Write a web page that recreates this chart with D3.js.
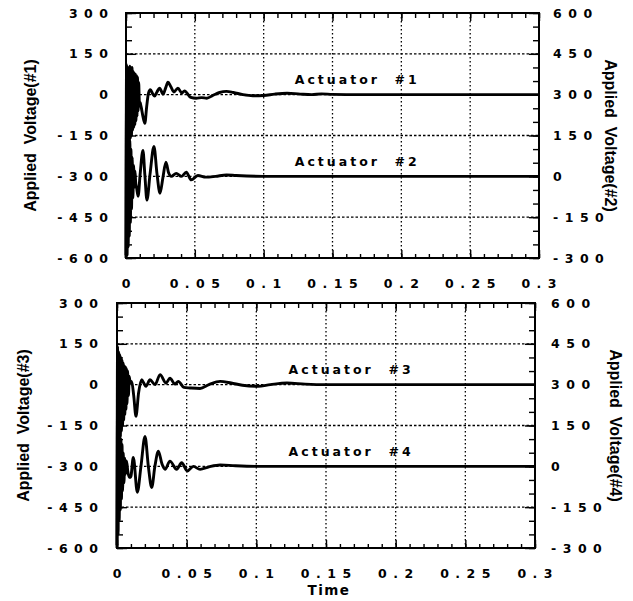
<!DOCTYPE html>
<html>
<head>
<meta charset="utf-8">
<script src="https://cdnjs.cloudflare.com/ajax/libs/d3/7.8.5/d3.min.js"></script>
<style>
  body { margin: 0; background: #fff; }
  svg { display: block; font-family: "DejaVu Sans", sans-serif; }
</style>
</head>
<body>
<script>
// values (time in s, voltage)
var xTicks = [0, 0.05, 0.1, 0.15, 0.2, 0.25, 0.3];
var xTickLabels = ['0', '0.05', '0.1', '0.15', '0.2', '0.25', '0.3'];
var leftTicks = [300, 150, 0, -150, -300, -450, -600];
var rightTicks = [600, 450, 300, 150, 0, -150, -300];
var gridY = [150, 0, -150, -300, -450];

// actuator #1, left axis
var act1 = [[0,-590],[0.0004,110],[0.0008,-260],[0.0012,100],[0.0016,-210],[0.002,95],[0.0024,-180],
  [0.0028,105],[0.0032,-160],[0.0036,90],[0.004,-150],[0.0044,100],[0.0048,-130],[0.0052,85],
  [0.0056,-120],[0.006,80],[0.0064,-110],[0.0068,75],[0.0072,-95],[0.0076,70],[0.008,-80],
  [0.0084,65],[0.0088,-60],[0.0092,45],[0.0097,-25],[0.0103,-30],[0.011,-45],[0.0123,-80],
  [0.0137,-105],[0.015,-45],[0.0163,5],[0.0177,18],[0.0195,2],[0.0208,-5],[0.0225,10],[0.0244,24],
  [0.027,2],[0.0288,25],[0.0305,46],[0.0325,30],[0.0348,10],[0.0377,24],[0.0406,6],[0.0425,14],
  [0.047,-10],[0.051,-13],[0.055,-11],[0.0587,-13],[0.063,-3],[0.068,8],[0.073,12],[0.078,8],
  [0.085,0],[0.092,-4],[0.1,-3],[0.108,2],[0.117,5],[0.125,3],[0.135,0],[0.142,3],[0.15,1],
  [0.17,0],[0.2,0],[0.25,0],[0.3,0]];

// actuator #2, right axis
var act2 = [[0,-300],[0.0004,260],[0.0008,-290],[0.0012,210],[0.0016,-260],[0.002,160],[0.0024,-220],
  [0.0028,130],[0.0032,-170],[0.0036,100],[0.004,-120],[0.0045,70],[0.005,-80],[0.0055,40],
  [0.006,-40],[0.0065,20],[0.007,-20],[0.0078,-45],[0.0088,-73],[0.0103,10],[0.0123,95],
  [0.0137,5],[0.0152,-87],[0.0175,10],[0.0203,110],[0.0225,10],[0.0247,-62],[0.0268,-5],
  [0.029,52],[0.031,12],[0.0329,0],[0.0365,11],[0.0402,0],[0.0438,15],[0.0474,-13],[0.0522,3],
  [0.058,-3],[0.065,0],[0.073,5],[0.08,3],[0.1,0],[0.15,0],[0.2,0],[0.3,0]];

// actuator #3, left axis
var act3 = [[0,-590],[0.0004,140],[0.0008,-270],[0.0012,120],[0.0016,-220],[0.002,110],[0.0024,-190],
  [0.0028,100],[0.0032,-170],[0.0036,90],[0.004,-150],[0.0044,80],[0.0048,-130],[0.0052,70],
  [0.0056,-110],[0.006,65],[0.0064,-90],[0.0068,60],[0.0072,-70],[0.0076,50],[0.0082,-40],
  [0.0088,30],[0.0095,5],[0.0105,12],[0.012,-40],[0.0136,-116],[0.0155,-30],[0.0177,18],
  [0.0193,5],[0.0208,-6],[0.0237,18],[0.0273,0],[0.0309,37],[0.0352,6],[0.038,24],[0.0416,2],
  [0.044,12],[0.048,-10],[0.0524,-12],[0.0596,-14],[0.066,0],[0.074,12],[0.082,6],[0.09,-2],
  [0.1012,-6],[0.11,0],[0.122,6],[0.135,2],[0.15,0],[0.2,0],[0.3,0]];

// actuator #4, right axis
var act4 = [[0,-300],[0.0004,200],[0.0008,-250],[0.0012,170],[0.0016,-200],[0.002,130],[0.0024,-160],
  [0.0028,100],[0.0032,-120],[0.0036,80],[0.004,-90],[0.0045,50],[0.005,-60],[0.0055,30],
  [0.006,-30],[0.0068,20],[0.0078,-20],[0.0088,-40],[0.0098,-40],[0.0117,33],[0.0146,-95],
  [0.0172,0],[0.0201,110],[0.0225,0],[0.0249,-78],[0.0272,0],[0.0297,56],[0.0322,10],
  [0.0345,-11],[0.038,19],[0.0428,-11],[0.0464,13],[0.0505,-17],[0.0548,0],[0.0596,-11],
  [0.066,-2],[0.074,5],[0.085,2],[0.1,0],[0.2,0],[0.3,0]];

var labelPos = [0.168, 55]; // where the "Actuator" captions sit (time, volts above the line)

var panels = [
  { l: 126, r: 539, t: 13, b: 258, left: act1, right: act2,
    capL: 'Actuator  #1', capR: 'Actuator  #2',
    titleL: 'Applied  Voltage(#1)', titleR: 'Applied  Voltage(#2)',
    titleLX: 30, titleRX: 610, gapL: 18, gapR: 14, showTime: false },
  { l: 117, r: 535, t: 303, b: 548, left: act3, right: act4,
    capL: 'Actuator  #3', capR: 'Actuator  #4',
    titleL: 'Applied  Voltage(#3)', titleR: 'Applied  Voltage(#4)',
    titleLX: 23, titleRX: 615, gapL: 19, gapR: 16, showTime: true }
];

var svg = d3.select('body').append('svg')
  .attr('width', 633)
  .attr('height', 601);

var LS = 6.5; // letter spacing of the numbers

var styleTicks = function(sel) {
  sel.select('.domain').remove();
  sel.selectAll('line').attr('stroke', '#000').attr('stroke-width', 1.4);
};

panels.forEach(function(p) {
  var x = d3.scaleLinear().domain([0, 0.3]).range([p.l, p.r]);
  var yL = d3.scaleLinear().domain([-600, 300]).range([p.b, p.t]);
  var yR = d3.scaleLinear().domain([-300, 600]).range([p.b, p.t]);
  var g = svg.append('g');

  // dotted grid
  g.selectAll('.gx').data(xTicks.slice(1, -1)).enter().append('line')
    .attr('x1', x).attr('x2', x)
    .attr('y1', p.t).attr('y2', p.b)
    .attr('stroke', '#000').attr('stroke-width', 1.3)
    .attr('stroke-dasharray', '1.5,2.5');
  g.selectAll('.gy').data(gridY).enter().append('line')
    .attr('x1', p.l).attr('x2', p.r)
    .attr('y1', yL).attr('y2', yL)
    .attr('stroke', '#000').attr('stroke-width', 1.3)
    .attr('stroke-dasharray', '2.5,2');

  // curves
  var lineL = d3.line()
    .x(function(d) { return x(d[0]); })
    .y(function(d) { return yL(d[1]); })
    .curve(d3.curveMonotoneX);
  var lineR = d3.line()
    .x(function(d) { return x(d[0]); })
    .y(function(d) { return yR(d[1]); })
    .curve(d3.curveMonotoneX);
  g.append('path').attr('d', lineL(p.left))
    .attr('fill', 'none').attr('stroke', '#000').attr('stroke-width', 2.9)
    .attr('stroke-linejoin', 'round');
  g.append('path').attr('d', lineR(p.right))
    .attr('fill', 'none').attr('stroke', '#000').attr('stroke-width', 2.9)
    .attr('stroke-linejoin', 'round');

  // inward ticks, minor and major
  g.append('g').attr('transform', 'translate(' + p.l + ',0)')
    .call(d3.axisRight(yL).tickValues(d3.range(-600, 301, 50)).tickSize(6).tickFormat(''))
    .call(styleTicks);
  g.append('g').attr('transform', 'translate(' + p.l + ',0)')
    .call(d3.axisRight(yL).tickValues(leftTicks).tickSize(10).tickFormat(''))
    .call(styleTicks);
  g.append('g').attr('transform', 'translate(' + p.r + ',0)')
    .call(d3.axisLeft(yR).tickValues(d3.range(-300, 601, 50)).tickSize(6).tickFormat(''))
    .call(styleTicks);
  g.append('g').attr('transform', 'translate(' + p.r + ',0)')
    .call(d3.axisLeft(yR).tickValues(rightTicks).tickSize(10).tickFormat(''))
    .call(styleTicks);
  g.append('g').attr('transform', 'translate(0,' + p.t + ')')
    .call(d3.axisBottom(x).tickValues(d3.range(0, 0.3001, 0.01)).tickSize(5).tickFormat(''))
    .call(styleTicks);
  g.append('g').attr('transform', 'translate(0,' + p.t + ')')
    .call(d3.axisBottom(x).tickValues(xTicks).tickSize(8).tickFormat(''))
    .call(styleTicks);
  g.append('g').attr('transform', 'translate(0,' + p.b + ')')
    .call(d3.axisTop(x).tickValues(d3.range(0, 0.3001, 0.01)).tickSize(4).tickFormat(''))
    .call(styleTicks);
  g.append('g').attr('transform', 'translate(0,' + p.b + ')')
    .call(d3.axisTop(x).tickValues(xTicks).tickSize(8).tickFormat(''))
    .call(styleTicks);

  // frame
  g.append('rect')
    .attr('x', p.l).attr('y', p.t)
    .attr('width', p.r - p.l).attr('height', p.b - p.t)
    .attr('fill', 'none').attr('stroke', '#000').attr('stroke-width', 2);

  // number labels
  var num = function(sel) {
    sel.attr('font-size', 12.5).attr('font-weight', 'bold')
      .attr('letter-spacing', LS).attr('fill', '#000')
      .attr('dominant-baseline', 'central');
  };
  g.selectAll('.ll').data(leftTicks).enter().append('text')
    .attr('x', p.l - p.gapL + LS).attr('y', yL)
    .attr('text-anchor', 'end')
    .text(function(d) { return String(d); })
    .call(num);
  g.selectAll('.rl').data(rightTicks).enter().append('text')
    .attr('x', p.r + p.gapR).attr('y', yR)
    .text(function(d) { return String(d); })
    .call(num);
  g.selectAll('.xl').data(xTicks).enter().append('text')
    .attr('x', function(d) { return x(d) + LS / 2; })
    .attr('y', p.b + 25)
    .attr('text-anchor', 'middle')
    .text(function(d, i) { return xTickLabels[i]; })
    .call(num);

  // captions
  g.append('text')
    .attr('x', x(labelPos[0])).attr('y', yL(labelPos[1]))
    .attr('text-anchor', 'middle').attr('dominant-baseline', 'central')
    .attr('font-size', 12.5).attr('font-weight', 'bold').attr('letter-spacing', 3)
    .style('white-space', 'pre')
    .text(p.capL);
  g.append('text')
    .attr('x', x(labelPos[0])).attr('y', yR(labelPos[1]))
    .attr('text-anchor', 'middle').attr('dominant-baseline', 'central')
    .attr('font-size', 12.5).attr('font-weight', 'bold').attr('letter-spacing', 3)
    .style('white-space', 'pre')
    .text(p.capR);

  // axis titles
  var cy = (p.t + p.b) / 2;
  g.append('text')
    .attr('transform', 'translate(' + p.titleLX + ',' + cy + ') rotate(-90)')
    .attr('text-anchor', 'middle').attr('dominant-baseline', 'central')
    .attr('font-family', '"Liberation Sans Narrow", sans-serif')
    .attr('font-size', 16).attr('font-weight', 'bold')
    .style('white-space', 'pre')
    .text(p.titleL);
  g.append('text')
    .attr('transform', 'translate(' + p.titleRX + ',' + cy + ') rotate(90)')
    .attr('text-anchor', 'middle').attr('dominant-baseline', 'central')
    .attr('font-family', '"Liberation Sans Narrow", sans-serif')
    .attr('font-size', 16).attr('font-weight', 'bold')
    .style('white-space', 'pre')
    .text(p.titleR);

  if (p.showTime) {
    g.append('text')
      .attr('x', (p.l + p.r) / 2 + 3).attr('y', p.b + 42)
      .attr('text-anchor', 'middle').attr('dominant-baseline', 'central')
      .attr('font-size', 13.5).attr('font-weight', 'bold').attr('letter-spacing', 1.5)
      .text('Time');
  }
});
</script>
</body>
</html>
